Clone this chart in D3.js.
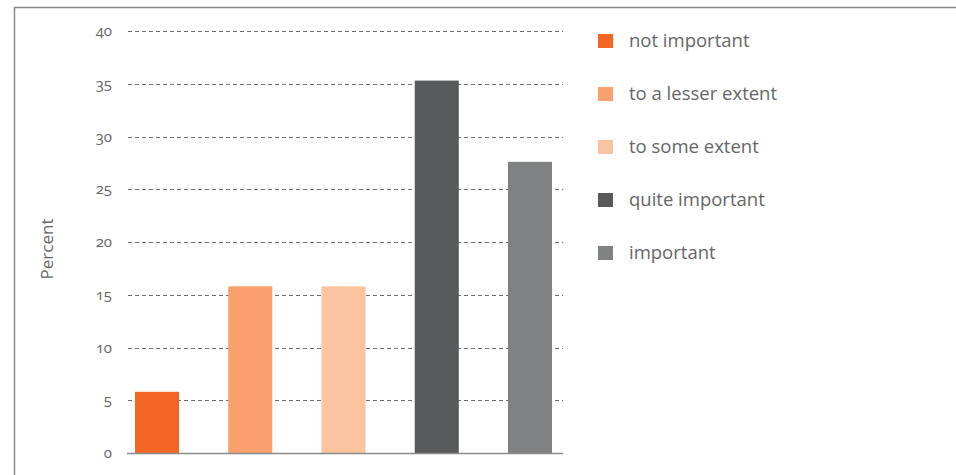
<!DOCTYPE html>
<html lang="en">
<head>
    <meta charset="UTF-8">
    <title>importance</title>
    <script src="https://d3js.org/d3.v7.min.js"></script>
    <style>
        body { margin: 0; background: #fff; }
        text { font-family: "Open Sans", Lato, sans-serif; fill: #666; }
        .num { font-variant-numeric: oldstyle-nums; }
    </style>
</head>
<body>
    <script>
        let categories = ["not important", "to a lesser extent", "to some extent", "quite important", "important"];
        let values = [5.8, 15.8, 15.8, 35.3, 27.6];
        let colors = ["#f26522", "#f9a06e", "#fbc4a0", "#58595b", "#808183"];
        let yTicks = [0, 5, 10, 15, 20, 25, 30, 35, 40];

        let width = 956;
        let height = 475;

        let svg = d3.select('body').append('svg')
            .attr('width', width)
            .attr('height', height);

        // frame
        svg.append('path')
            .attr('d', 'M14.5,' + height + 'V7.5H' + width)
            .attr('fill', 'none')
            .attr('stroke', '#8a8a8a')
            .attr('stroke-width', 1.5);

        let x = d3.scaleBand()
            .domain(categories)
            .range([128, 559])
            .paddingInner(0.528)
            .paddingOuter(0.075);

        let y = d3.scaleLinear()
            .domain([0, 40])
            .range([453, 31]);

        // gridlines
        svg.selectAll('.grid').data(yTicks.filter(d => d > 0)).enter().append('line')
            .attr('x1', 128).attr('x2', 563)
            .attr('y1', d => Math.round(y(d)) + 0.5)
            .attr('y2', d => Math.round(y(d)) + 0.5)
            .attr('stroke', '#6f6f6f')
            .attr('stroke-dasharray', '4,3');

        // tick labels
        svg.selectAll('.tick').data(yTicks).enter().append('text')
            .attr('class', 'num')
            .attr('x', 112)
            .attr('y', d => y(d) + 5)
            .attr('text-anchor', 'end')
            .style('font-size', '15px')
            .text(d => d);

        // bars
        svg.selectAll('rect.bar').data(values).enter().append('rect')
            .attr('x', (d, i) => x(categories[i]))
            .attr('y', d => y(d))
            .attr('width', x.bandwidth())
            .attr('height', d => y(0) - y(d))
            .style('fill', (d, i) => colors[i]);

        // baseline
        svg.append('line')
            .attr('x1', 127).attr('x2', 563)
            .attr('y1', y(0) + 0.5).attr('y2', y(0) + 0.5)
            .attr('stroke', '#8c8c8c')
            .attr('stroke-width', 1.5);

        // axis title
        svg.append('text')
            .attr('transform', 'translate(53,249) rotate(-90)')
            .attr('text-anchor', 'middle')
            .style('font-size', '17px')
            .text('Percent');

        // legend
        let legend = svg.selectAll('.legend').data(categories).enter().append('g')
            .attr('transform', (d, i) => 'translate(598,' + (41 + i * 53) + ')');
        legend.append('rect')
            .attr('x', 0).attr('y', -7)
            .attr('width', 15).attr('height', 14)
            .style('fill', (d, i) => colors[i]);
        legend.append('text')
            .attr('x', 31).attr('y', 6)
            .style('font-size', '18.5px')
            .text(d => d);
    </script>
</body>
</html>
